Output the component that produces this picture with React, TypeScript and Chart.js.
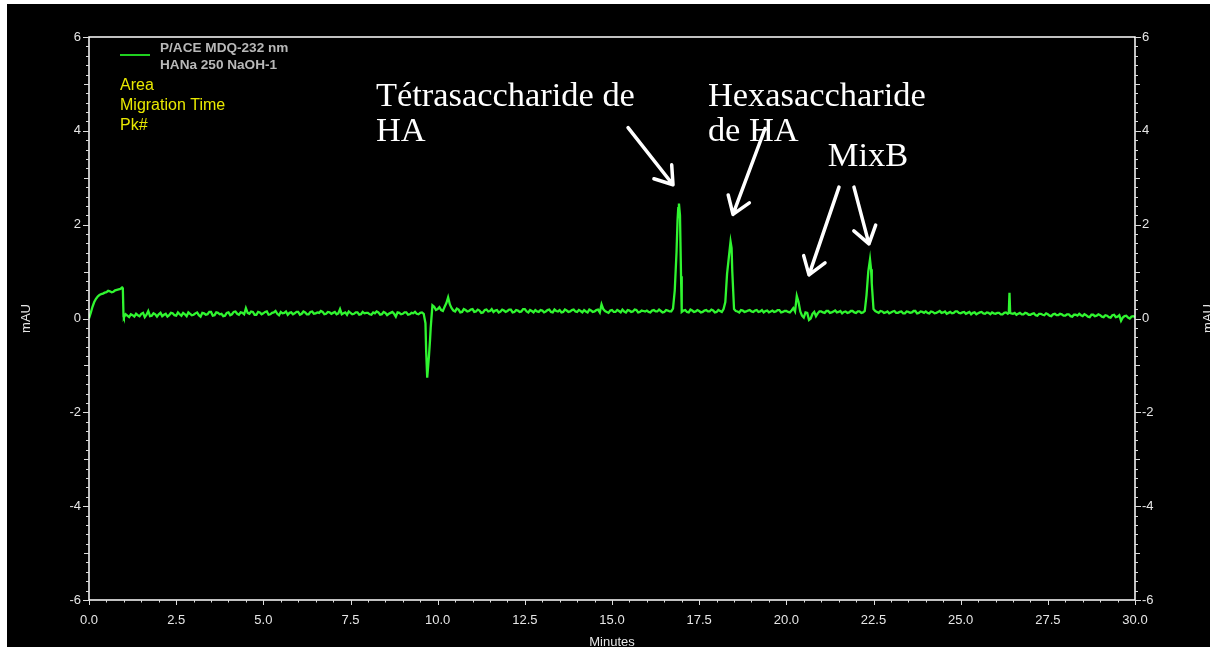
import React, { useEffect, useRef } from 'react';
import { Chart, registerables } from 'chart.js';

Chart.register(...registerables);

// Electropherogram read every 0.1 min from 0.0 to 30.0 (mAU)
const signalStep = 0.1;
const signal: number[] = [
  0.00, 0.25, 0.42, 0.50, 0.53, 0.56, 0.58, 0.57, 0.61, 0.63,
  0.02, 0.06, 0.09, 0.04, 0.07, 0.10, 0.03, 0.16, 0.06, 0.09,
  0.09, 0.05, 0.10, 0.07, 0.11, 0.06, 0.09, 0.12, 0.05, 0.10,
  0.08, 0.13, 0.04, 0.11, 0.09, 0.14, 0.07, 0.12, 0.10, 0.06,
  0.13, 0.09, 0.15, 0.08, 0.12, 0.22, 0.10, 0.14, 0.08, 0.13,
  0.11, 0.15, 0.09, 0.13, 0.10, 0.14, 0.12, 0.08, 0.13, 0.11,
  0.14, 0.10, 0.13, 0.09, 0.15, 0.11, 0.12, 0.14, 0.10, 0.13,
  0.12, 0.09, 0.20, 0.11, 0.08, 0.12, 0.10, 0.13, 0.09, 0.11,
  0.12, 0.08, 0.11, 0.13, 0.09, 0.12, 0.10, 0.14, 0.04, 0.12,
  0.10, 0.13, 0.09, 0.11, 0.10, 0.12, 0.10, -1.26, -0.20, 0.25,
  0.20, 0.18, 0.25, 0.45, 0.22, 0.15, 0.19, 0.14, 0.18, 0.16,
  0.20, 0.15, 0.17, 0.13, 0.19, 0.16, 0.14, 0.18, 0.15, 0.17,
  0.16, 0.19, 0.14, 0.17, 0.15, 0.20, 0.13, 0.16, 0.18, 0.14,
  0.17, 0.15, 0.19, 0.13, 0.16, 0.18, 0.14, 0.17, 0.15, 0.19,
  0.14, 0.16, 0.18, 0.13, 0.17, 0.15, 0.19, 0.30, 0.16, 0.12,
  0.18, 0.14, 0.16, 0.19, 0.13, 0.17, 0.15, 0.18, 0.14, 0.16,
  0.17, 0.13, 0.18, 0.15, 0.16, 0.14, 0.17, 0.15, 0.60, 2.35,
  0.14, 0.18, 0.13, 0.17, 0.15, 0.16, 0.14, 0.18, 0.15, 0.17,
  0.14, 0.16, 0.20, 0.95, 1.64, 0.20, 0.15, 0.18, 0.14, 0.17,
  0.15, 0.17, 0.14, 0.18, 0.16, 0.13, 0.17, 0.15, 0.18, 0.14,
  0.16, 0.13, 0.22, 0.48, 0.15, 0.02, 0.12, 0.00, 0.14, 0.11,
  0.15, 0.12, 0.16, 0.13, 0.17, 0.14, 0.11, 0.15, 0.13, 0.16,
  0.12, 0.15, 0.13, 0.50, 1.26, 0.20, 0.14, 0.16, 0.12, 0.15,
  0.13, 0.16, 0.12, 0.15, 0.11, 0.14, 0.13, 0.16, 0.12, 0.14,
  0.15, 0.11, 0.14, 0.12, 0.16, 0.13, 0.10, 0.14, 0.12, 0.15,
  0.11, 0.14, 0.12, 0.09, 0.13, 0.11, 0.14, 0.10, 0.12, 0.13,
  0.10, 0.12, 0.09, 0.13, 0.55, 0.10, 0.08, 0.12, 0.09, 0.11,
  0.08, 0.11, 0.06, 0.10, 0.07, 0.09, 0.05, 0.10, 0.07, 0.09,
  0.06, 0.09, 0.04, 0.08, 0.10, 0.05, 0.07, 0.03, 0.08, 0.06,
  0.07, 0.03, 0.06, 0.02, 0.08, 0.04, -0.05, 0.05, 0.02, 0.04,
  0.03,
];

// Readings in between, at 0.05, 0.15, ... 29.95 min (mAU)
const signalMid: number[] = [
  0.12, 0.35, 0.47, 0.52, 0.55, 0.59, 0.56, 0.60, 0.62, 0.66,
  0.09, 0.03, 0.07, 0.10, 0.05, 0.12, 0.08, 0.05, 0.11, 0.04,
  0.12, 0.08, 0.04, 0.12, 0.07, 0.13, 0.06, 0.09, 0.13, 0.07,
  0.11, 0.07, 0.12, 0.08, 0.14, 0.06, 0.13, 0.09, 0.05, 0.12,
  0.07, 0.14, 0.10, 0.13, 0.09, 0.12, 0.15, 0.08, 0.14, 0.09,
  0.14, 0.08, 0.12, 0.16, 0.07, 0.11, 0.15, 0.12, 0.09, 0.14,
  0.08, 0.15, 0.09, 0.14, 0.10, 0.13, 0.16, 0.09, 0.14, 0.10,
  0.14, 0.11, 0.09, 0.13, 0.15, 0.09, 0.13, 0.08, 0.14, 0.12,
  0.09, 0.13, 0.15, 0.08, 0.14, 0.07, 0.12, 0.10, 0.13, 0.09,
  0.13, 0.08, 0.12, 0.14, 0.09, 0.13, -0.10, -0.80, 0.28, 0.18,
  0.24, 0.16, 0.33, 0.30, 0.17, 0.21, 0.13, 0.20, 0.15, 0.19,
  0.14, 0.19, 0.12, 0.18, 0.15, 0.20, 0.17, 0.13, 0.19, 0.14,
  0.19, 0.13, 0.18, 0.14, 0.20, 0.15, 0.18, 0.13, 0.15, 0.18,
  0.13, 0.18, 0.14, 0.19, 0.15, 0.13, 0.19, 0.14, 0.18, 0.15,
  0.18, 0.13, 0.15, 0.19, 0.14, 0.18, 0.13, 0.20, 0.14, 0.17,
  0.14, 0.18, 0.13, 0.15, 0.18, 0.14, 0.19, 0.13, 0.17, 0.15,
  0.14, 0.17, 0.15, 0.19, 0.13, 0.18, 0.15, 0.21, 1.40, 2.20,
  0.17, 0.14, 0.19, 0.14, 0.18, 0.13, 0.17, 0.15, 0.19, 0.13,
  0.18, 0.14, 0.35, 1.30, 1.00, 0.16, 0.13, 0.17, 0.15, 0.18,
  0.14, 0.18, 0.15, 0.13, 0.17, 0.15, 0.14, 0.18, 0.13, 0.16,
  0.14, 0.17, 0.15, 0.35, 0.06, 0.13, -0.03, 0.10, 0.05, 0.15,
  0.13, 0.16, 0.12, 0.15, 0.13, 0.16, 0.14, 0.12, 0.16, 0.13,
  0.15, 0.12, 0.16, 1.00, 0.75, 0.16, 0.12, 0.15, 0.13, 0.11,
  0.15, 0.12, 0.14, 0.11, 0.15, 0.12, 0.16, 0.11, 0.15, 0.12,
  0.12, 0.15, 0.11, 0.14, 0.12, 0.15, 0.12, 0.11, 0.15, 0.12,
  0.13, 0.10, 0.14, 0.12, 0.09, 0.13, 0.11, 0.13, 0.09, 0.11,
  0.12, 0.09, 0.12, 0.10, 0.11, 0.12, 0.10, 0.09, 0.12, 0.08,
  0.10, 0.07, 0.10, 0.08, 0.11, 0.06, 0.09, 0.07, 0.10, 0.06,
  0.09, 0.05, 0.08, 0.06, 0.07, 0.09, 0.04, 0.08, 0.05, 0.09,
  0.04, 0.07, 0.03, 0.07, 0.03, 0.07, 0.02, 0.06, 0.00, 0.05,
];

// Extra readings around sharp features (minutes, mAU)
const detailTimes = [0.97, 0.99, 9.67, 9.78, 16.88, 16.92, 16.98, 18.43, 22.43, 26.38, 26.42];
const detailValues = [0.65, 0.04, -0.70, -0.47, 2.10, 2.45, 0.90, 1.50, 1.05, 0.12, 0.12];

const xTickLabels = ['0.0', '2.5', '5.0', '7.5', '10.0', '12.5', '15.0', '17.5', '20.0', '22.5', '25.0', '27.5', '30.0'];

const legendLines = ['P/ACE MDQ-232 nm', 'HANa 250 NaOH-1'];
const legendExtra = ['Area', 'Migration Time', 'Pk#'];

// Annotation labels anchored in data coordinates (minutes, mAU)
const labelTexts = [['Tétrasaccharide de', 'HA'], ['Hexasaccharide', 'de HA'], ['MixB']];
const labelX = [8.23, 17.75, 21.19];
const labelY = [4.52, 4.52, 3.25];

// Arrows: tail -> head (minutes, mAU)
const arrowTailX = [15.46, 19.39, 21.51, 21.94];
const arrowTailY = [4.07, 4.05, 2.80, 2.80];
const arrowHeadX = [16.75, 18.47, 20.65, 22.37];
const arrowHeadY = [2.85, 2.22, 0.93, 1.59];

const SANS = '"Liberation Sans", Arial, sans-serif';
const SERIF = '"Liberation Serif", "Times New Roman", serif';

export default function App() {
  const ref = useRef<HTMLCanvasElement>(null);

  useEffect(() => {
    if (!ref.current) return;
    const pts = signal.map((v, i) => ({ x: Math.round(i * signalStep * 100) / 100, y: v }));
    signalMid.forEach((v, i) => pts.push({ x: Math.round((i * signalStep + signalStep / 2) * 100) / 100, y: v }));
    detailTimes.forEach((t, i) => pts.push({ x: t, y: detailValues[i] }));
    pts.sort((a, b) => a.x - b.x);

    const decor = {
      id: 'decor',
      afterDraw(chart: any) {
        const ctx = chart.ctx as CanvasRenderingContext2D;
        const ca = chart.chartArea;
        const xs = chart.scales.x;
        const ys = chart.scales.y;
        ctx.save();
        ctx.strokeStyle = '#ffffff';
        ctx.lineWidth = 1.5;
        ctx.beginPath();
        ctx.moveTo(ca.left, ca.top);
        ctx.lineTo(ca.right, ca.top);
        ctx.lineTo(ca.right, ca.bottom);
        ctx.lineTo(ca.left, ca.bottom);
        ctx.closePath();
        ctx.stroke();
        ctx.lineWidth = 1;
        ctx.strokeStyle = '#dddddd';
        for (let i = -30; i <= 30; i++) {
          const py = Math.round(ys.getPixelForValue(i / 5)) + 0.5;
          const len = i % 10 === 0 ? 6 : i % 5 === 0 ? 5 : 3;
          ctx.beginPath();
          ctx.moveTo(ca.left - len, py);
          ctx.lineTo(ca.left, py);
          ctx.moveTo(ca.right, py);
          ctx.lineTo(ca.right + len, py);
          ctx.stroke();
        }
        for (let i = 0; i <= 60; i++) {
          const px = Math.round(xs.getPixelForValue(i / 2)) + 0.5;
          const len = i % 5 === 0 ? 5 : 2.5;
          ctx.beginPath();
          ctx.moveTo(px, ca.bottom);
          ctx.lineTo(px, ca.bottom + len);
          ctx.stroke();
        }
        ctx.fillStyle = '#e6e6e6';
        ctx.font = `13px ${SANS}`;
        ctx.textAlign = 'center';
        ctx.textBaseline = 'middle';
        ctx.fillText('Minutes', (ca.left + ca.right) / 2, ca.bottom + 42);
        const midY = (ca.top + ca.bottom) / 2;
        [19, 1201].forEach((tx) => {
          ctx.save();
          ctx.translate(tx, midY);
          ctx.rotate(-Math.PI / 2);
          ctx.fillText('mAU', 0, 0);
          ctx.restore();
        });
        const lx = ca.left + 31;
        ctx.strokeStyle = '#1fd01f';
        ctx.lineWidth = 2;
        ctx.beginPath();
        ctx.moveTo(lx, ca.top + 18);
        ctx.lineTo(lx + 30, ca.top + 18);
        ctx.stroke();
        ctx.textAlign = 'left';
        ctx.fillStyle = '#b8b8b8';
        ctx.font = `bold 13.6px ${SANS}`;
        legendLines.forEach((t, i) => ctx.fillText(t, lx + 40, ca.top + 11 + i * 17));
        ctx.fillStyle = '#e8e800';
        ctx.font = `16px ${SANS}`;
        legendExtra.forEach((t, i) => ctx.fillText(t, lx, ca.top + 49 + i * 20));
        ctx.font = `32px ${SERIF}`;
        const w = ctx.measureText(labelTexts[0][0]).width;
        const fs = (32 * 259) / w;
        ctx.font = `${fs}px ${SERIF}`;
        ctx.fillStyle = '#ffffff';
        ctx.textBaseline = 'alphabetic';
        labelTexts.forEach((lines, i) => {
          const px = xs.getPixelForValue(labelX[i]);
          const py = ys.getPixelForValue(labelY[i]);
          lines.forEach((t, j) => ctx.fillText(t, px, py + j * 35));
        });
        ctx.strokeStyle = '#ffffff';
        ctx.lineWidth = 3.5;
        ctx.lineCap = 'round';
        ctx.lineJoin = 'round';
        arrowTailX.forEach((_, i) => {
          const x1 = xs.getPixelForValue(arrowTailX[i]);
          const y1 = ys.getPixelForValue(arrowTailY[i]);
          const x2 = xs.getPixelForValue(arrowHeadX[i]);
          const y2 = ys.getPixelForValue(arrowHeadY[i]);
          const ang = Math.atan2(y2 - y1, x2 - x1);
          const hl = 20;
          const spread = 0.6;
          ctx.beginPath();
          ctx.moveTo(x1, y1);
          ctx.lineTo(x2, y2);
          ctx.moveTo(x2 - hl * Math.cos(ang - spread), y2 - hl * Math.sin(ang - spread));
          ctx.lineTo(x2, y2);
          ctx.lineTo(x2 - hl * Math.cos(ang + spread), y2 - hl * Math.sin(ang + spread));
          ctx.stroke();
        });
        ctx.restore();
      },
    };

    const tickFont = { family: SANS, size: 13 };
    const chart = new Chart(ref.current, {
      type: 'line',
      data: {
        datasets: [
          {
            label: 'P/ACE MDQ-232 nm',
            data: pts,
            borderColor: '#30f530',
            borderWidth: 2.3,
            pointRadius: 0,
            tension: 0,
            fill: false,
          },
        ],
      },
      options: {
        responsive: false,
        animation: false,
        devicePixelRatio: 1,
        layout: { padding: { top: 33, left: 0, right: 0, bottom: 0 } },
        plugins: { legend: { display: false }, tooltip: { enabled: false } },
        scales: {
          x: {
            type: 'linear',
            min: 0,
            max: 30,
            afterFit: (s: any) => { s.height = 47; },
            grid: { display: false, drawTicks: false },
            border: { display: false },
            afterBuildTicks: (s: any) => {
              s.ticks = xTickLabels.map((l) => ({ value: parseFloat(l), label: l }));
            },
            ticks: {
              color: '#e6e6e6',
              font: tickFont,
              padding: 13,
              maxRotation: 0,
              autoSkip: false,
              callback: (v: any) => Number(v).toFixed(1),
            },
          },
          y: {
            position: 'left',
            min: -6,
            max: 6,
            afterFit: (s: any) => { s.width = 82; },
            grid: { display: false, drawTicks: false },
            border: { display: false },
            ticks: { stepSize: 2, color: '#e6e6e6', font: tickFont, padding: 8 },
          },
          y2: {
            position: 'right',
            min: -6,
            max: 6,
            afterFit: (s: any) => { s.width = 75; },
            grid: { display: false, drawTicks: false },
            border: { display: false },
            ticks: { stepSize: 2, color: '#e6e6e6', font: tickFont, padding: 7 },
          },
        },
      },
      plugins: [decor],
    } as any);
    return () => chart.destroy();
  }, []);

  return (
    <div style={{ position: 'fixed', left: 7, top: 4, width: 1203, height: 643, background: '#000', overflow: 'hidden' }}>
      <canvas ref={ref} width={1203} height={643} style={{ display: 'block' }} />
    </div>
  );
}
